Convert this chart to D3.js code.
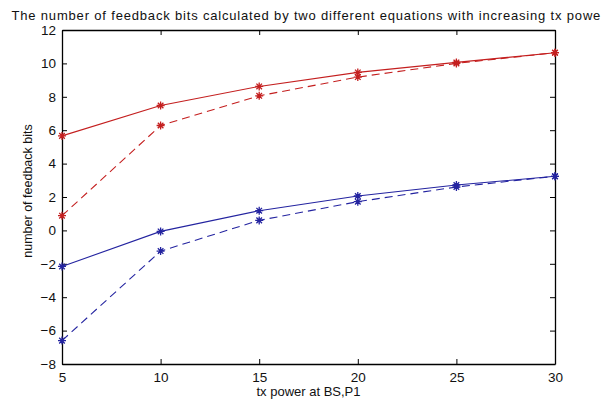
<!DOCTYPE html>
<html lang="en">
<head>
<meta charset="UTF-8">
<title>feedback bits</title>
<script src="https://cdn.jsdelivr.net/npm/d3@7"></script>
<style>
  body { margin: 0; background: #fff; }
  text { font-family: "Liberation Sans", Arial, sans-serif; fill: #111; }
</style>
</head>
<body>
<svg width="601" height="399"></svg>
<script>
// tx power values (x)
var txPower = [5, 10, 15, 20, 25, 30];
// series
var redSolid  = [5.66, 7.48, 8.62, 9.46, 10.06, 10.64];
var redDashed = [0.88, 6.28, 8.06, 9.18, 10.00, 10.64];
var blueSolid  = [-2.16, -0.06, 1.18, 2.06, 2.72, 3.24];
var blueDashed = [-6.60, -1.24, 0.60, 1.72, 2.60, 3.24];

var xTicks = [5, 10, 15, 20, 25, 30];
var yTicks = [-8, -6, -4, -2, 0, 2, 4, 6, 8, 10, 12];

var series = [
  { values: redSolid,   color: '#c41f1f', dash: null },
  { values: redDashed,  color: '#c41f1f', dash: '8,5' },
  { values: blueSolid,  color: '#2424a0', dash: null },
  { values: blueDashed, color: '#2424a0', dash: '8,5' }
];

var svg = d3.select('svg');
var padL = 62, padR = 555, padT = 30, padB = 364;

var x = d3.scaleLinear().domain([5, 30]).range([padL, padR]);
var y = d3.scaleLinear().domain([-8, 12]).range([padB, padT]);

// 坐标轴 (刻度朝内)
var tk = 5;
svg.append('g').attr('transform', 'translate(0,' + padB + ')')
  .call(d3.axisBottom(x).tickValues(xTicks).tickSizeInner(-tk).tickSizeOuter(0).tickPadding(8));
svg.append('g').attr('transform', 'translate(' + padL + ',0)')
  .call(d3.axisLeft(y).tickValues(yTicks).tickSizeInner(-tk).tickSizeOuter(0).tickPadding(6));
svg.append('g').attr('transform', 'translate(0,' + padT + ')')
  .call(d3.axisTop(x).tickValues(xTicks).tickSizeInner(-tk).tickSizeOuter(0).tickFormat(''));
svg.append('g').attr('transform', 'translate(' + padR + ',0)')
  .call(d3.axisRight(y).tickValues(yTicks).tickSizeInner(-tk).tickSizeOuter(0).tickFormat(''));

svg.selectAll('.domain').attr('stroke', '#000').attr('stroke-width', 1.3);
svg.selectAll('.tick line').attr('stroke', '#000');
svg.selectAll('.tick text').style('font-size', '13.5px').attr('fill', '#111');

// lines
var line = d3.line()
  .x(function(d, i) { return x(txPower[i]); })
  .y(function(d) { return y(d); });

series.forEach(function(s) {
  svg.append('path').datum(s.values)
    .attr('d', line)
    .attr('fill', 'none')
    .attr('stroke', s.color)
    .attr('stroke-width', 1.1)
    .attr('stroke-dasharray', s.dash);

  // asterisk markers
  var m = svg.append('g').selectAll('g').data(s.values).enter().append('g')
    .attr('transform', function(d, i) { return 'translate(' + x(txPower[i]) + ',' + y(d) + ')'; });
  var r = 4;
  m.append('path')
    .attr('d', 'M' + (-r) + ',0H' + r + 'M0,' + (-r) + 'V' + r +
      'M' + (-r * 0.7) + ',' + (-r * 0.7) + 'L' + (r * 0.7) + ',' + (r * 0.7) +
      'M' + (-r * 0.7) + ',' + (r * 0.7) + 'L' + (r * 0.7) + ',' + (-r * 0.7))
    .attr('stroke', s.color)
    .attr('stroke-width', 1.3)
    .attr('fill', 'none');
});

// title and labels
svg.append('text')
  .attr('x', (padL + padR) / 2).attr('y', 20)
  .attr('text-anchor', 'middle')
  .style('font-size', '13px')
  .attr('textLength', 594)
  .text('The number of feedback bits calculated by two different equations with increasing tx power');

svg.append('text')
  .attr('x', (padL + padR) / 2).attr('y', 396)
  .attr('text-anchor', 'middle')
  .style('font-size', '13px')
  .text('tx power at BS,P1');

svg.append('text')
  .attr('transform', 'translate(32,191) rotate(-90)')
  .attr('text-anchor', 'middle')
  .style('font-size', '12.5px')
  .text('number of feedback bits');
</script>
</body>
</html>
